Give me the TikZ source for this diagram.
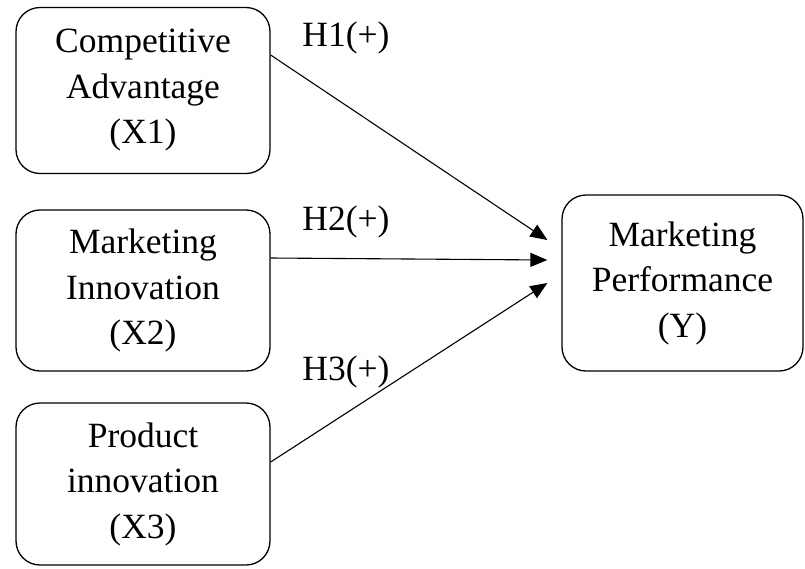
\documentclass[tikz,border=0pt]{standalone}
\usepackage{fontspec}
\setmainfont{Liberation Serif}
\usetikzlibrary{arrows.meta}
\begin{document}
\begin{tikzpicture}[x=1pt,y=-1pt,
  box/.style={draw,line width=1.3pt,rounded corners=24pt,align=center,
    font=\fontsize{35.5}{45.5}\selectfont,inner sep=0pt},
  lbl/.style={font=\fontsize{35.5}{40}\selectfont,inner sep=0pt},
  arr/.style={line width=1.1pt,-{Triangle[length=17pt,width=14pt]}}]
\useasboundingbox (0,0) rectangle (805,568);
\node[box,minimum width=254pt,minimum height=166pt] (b1) at (143,90.5) {Competitive\\Advantage\\(X1)};
\node[box,minimum width=254pt,minimum height=161pt] (b2) at (143,290.5) {Marketing\\Innovation\\(X2)};
\node[box,minimum width=254pt,minimum height=162pt] (b3) at (143,484) {Product\\innovation\\(X3)};
\node[box,minimum width=241pt,minimum height=176pt] (y) at (682.5,283) {Marketing\\Performance\\(Y)};
\node[lbl] (h1) at (346,38) {H1(+)};
\node[lbl] (h2) at (346,222) {H2(+)};
\node[lbl] (h3) at (346,372) {H3(+)};
\draw[arr] ([yshift=35.5pt]b1.east) -- ([xshift=-14pt,yshift=43pt]y.west);
\draw[arr] ([yshift=32.5pt]b2.east) -- ([xshift=-14pt,yshift=23pt]y.west);
\draw[arr] ([yshift=22pt]b3.east) -- ([xshift=-14pt,yshift=0pt]y.west);
\end{tikzpicture}
\end{document}
